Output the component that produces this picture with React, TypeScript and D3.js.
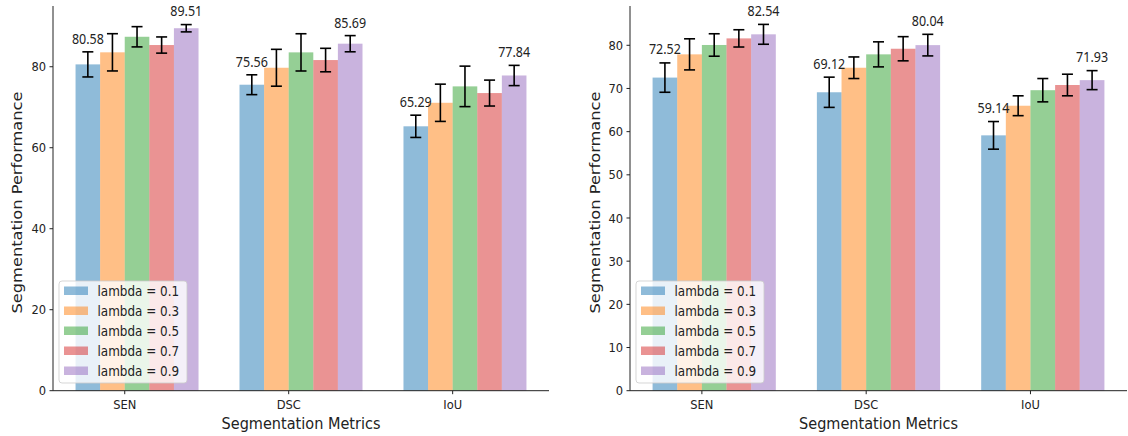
import React from "react";
import * as d3 from "d3";

const CATEGORIES = ["SEN", "DSC", "IoU"];
const SERIES = ["lambda = 0.1", "lambda = 0.3", "lambda = 0.5", "lambda = 0.7", "lambda = 0.9"];
const COLORS = ["#1f77b4", "#ff7f0e", "#2ca02c", "#d62728", "#9467bd"];

// Left panel: mean per series (rows) x category (cols)
const LEFT_MEAN = [
  [80.58, 75.56, 65.29],
  [83.56, 79.75, 71.1],
  [87.4, 83.55, 75.15],
  [85.36, 81.65, 73.5],
  [89.51, 85.69, 77.84],
];
const LEFT_ERR = [
  [3.1, 2.45, 2.75],
  [4.6, 4.55, 4.6],
  [2.5, 4.6, 5.0],
  [2.0, 2.9, 3.2],
  [0.9, 2.0, 2.5],
];
const LEFT_TICKS = [0, 20, 40, 60, 80];
const LEFT_YMAX = 95;

// Right panel
const RIGHT_MEAN = [
  [72.52, 69.12, 59.14],
  [77.9, 74.8, 66.0],
  [80.07, 77.9, 69.6],
  [81.6, 79.2, 70.8],
  [82.54, 80.04, 71.93],
];
const RIGHT_ERR = [
  [3.4, 3.5, 3.2],
  [3.6, 2.5, 2.3],
  [2.6, 2.9, 2.7],
  [2.0, 2.8, 2.5],
  [2.3, 2.5, 2.2],
];
const RIGHT_TICKS = [0, 10, 20, 30, 40, 50, 60, 70, 80];
const RIGHT_YMAX = 89.1;

const LABELED_SERIES = [0, 4];
const BAR_W = 0.15;
const X_LABEL = "Segmentation Metrics";
const Y_LABEL = "Segmentation Performance";

const FONT = "'DejaVu Sans', sans-serif";
const VFONT = "'Noto Sans', 'Open Sans', sans-serif";
const SY = 1.12; // vertical stretch of text in reference

type TProps = {
  x: number;
  y: number;
  anchor?: "start" | "middle" | "end";
  size: number;
  family?: string;
  dy?: string;
  children: React.ReactNode;
};

function T({ x, y, anchor = "start", size, family = FONT, dy, children }: TProps) {
  return (
    <text
      transform={`translate(${x},${y}) scale(1,${SY})`}
      textAnchor={anchor}
      fontFamily={family}
      fontSize={size}
      dy={dy}
      fill="#222"
    >
      {children}
    </text>
  );
}

type PanelProps = {
  mean: number[][];
  err: number[][];
  ticks: number[];
  ymax: number;
  x0: number;
  x1: number;
  yLabelX: number;
};

function Panel({ mean, err, ticks, ymax, x0, x1, yLabelX }: PanelProps) {
  const top = 6;
  const bottom = 390.7;
  const x = d3.scaleLinear().domain([-0.4375, 2.5875]).range([x0, x1]);
  const y = d3.scaleLinear().domain([0, ymax]).range([bottom, top]);
  const bw = x(BAR_W) - x(0);
  const legX = x0 + 6;
  const legY = 281;
  return (
    <g>
      {SERIES.map((s, i) =>
        CATEGORIES.map((c, ci) => {
          const left = x(ci - 2 * BAR_W + i * BAR_W);
          return (
            <rect
              key={s + c}
              x={left}
              y={y(mean[i][ci])}
              width={bw}
              height={y(0) - y(mean[i][ci])}
              fill={COLORS[i]}
              fillOpacity={0.5}
            />
          );
        })
      )}
      {SERIES.map((s, i) =>
        CATEGORIES.map((c, ci) => {
          const cx = x(ci - 2 * BAR_W + i * BAR_W) + bw / 2;
          const v = mean[i][ci];
          const e = err[i][ci];
          return (
            <g key={"e" + s + c} stroke="#000" strokeWidth={1.6}>
              <line x1={cx} x2={cx} y1={y(v - e)} y2={y(v + e)} />
              <line x1={cx - 5.5} x2={cx + 5.5} y1={y(v - e)} y2={y(v - e)} />
              <line x1={cx - 5.5} x2={cx + 5.5} y1={y(v + e)} y2={y(v + e)} />
            </g>
          );
        })
      )}
      {LABELED_SERIES.map((i) =>
        CATEGORIES.map((c, ci) => {
          const cx = x(ci - 2 * BAR_W + i * BAR_W) + bw / 2;
          const v = mean[i][ci];
          const e = err[i][ci];
          return (
            <T key={"l" + i + c} x={cx} y={y(v + e + 2)} anchor="middle" family={VFONT} size={12.5}>
              {v.toFixed(2)}
            </T>
          );
        })
      )}
      {/* spines */}
      <line x1={x0} x2={x0} y1={top} y2={bottom} stroke="#222" strokeWidth={1} />
      <line x1={x0} x2={x1} y1={bottom} y2={bottom} stroke="#222" strokeWidth={1} />
      {ticks.map((t) => (
        <g key={"yt" + t}>
          <line x1={x0 - 3.5} x2={x0} y1={y(t)} y2={y(t)} stroke="#222" strokeWidth={1} />
          <T x={x0 - 7} y={y(t)} dy="0.36em" anchor="end" size={11.5}>
            {t}
          </T>
        </g>
      ))}
      {CATEGORIES.map((c, ci) => (
        <g key={"xt" + c}>
          <line x1={x(ci)} x2={x(ci)} y1={bottom} y2={bottom + 3.5} stroke="#222" strokeWidth={1} />
          <T x={x(ci)} y={409} anchor="middle" size={11.5}>
            {c}
          </T>
        </g>
      ))}
      <T x={(x0 + x1) / 2} y={429} anchor="middle" size={14.5}>
        {X_LABEL}
      </T>
      <text
        transform={`translate(${yLabelX},202.5) rotate(-90) scale(${SY},1)`}
        textAnchor="middle"
        fontFamily={FONT}
        fontSize={14.5}
        fill="#222"
      >
        {Y_LABEL}
      </text>
      {/* legend */}
      <rect
        x={legX}
        y={legY}
        width={128}
        height={102}
        rx={3}
        fill="#fff"
        fillOpacity={0.8}
        stroke="#ccc"
        strokeOpacity={0.8}
        strokeWidth={1}
      />
      {SERIES.map((s, i) => (
        <g key={"lg" + s}>
          <rect
            x={legX + 5}
            y={legY + 10 + i * 20 - 4.5}
            width={24}
            height={8.5}
            fill={COLORS[i]}
            fillOpacity={0.5}
          />
          <T x={legX + 38.5} y={legY + 10 + i * 20} dy="0.36em" size={12}>
            {s}
          </T>
        </g>
      ))}
    </g>
  );
}

export default function App() {
  return (
    <svg
      width={1128}
      height={436}
      style={{ position: "fixed", left: 0, top: 0, background: "#fff" }}
    >
      <rect width={1128} height={436} fill="#fff" />
      <Panel
        mean={LEFT_MEAN}
        err={LEFT_ERR}
        ticks={LEFT_TICKS}
        ymax={LEFT_YMAX}
        x0={53}
        x1={549}
        yLabelX={21.5}
      />
      <Panel
        mean={RIGHT_MEAN}
        err={RIGHT_ERR}
        ticks={RIGHT_TICKS}
        ymax={RIGHT_YMAX}
        x0={630}
        x1={1127}
        yLabelX={600}
      />
    </svg>
  );
}
